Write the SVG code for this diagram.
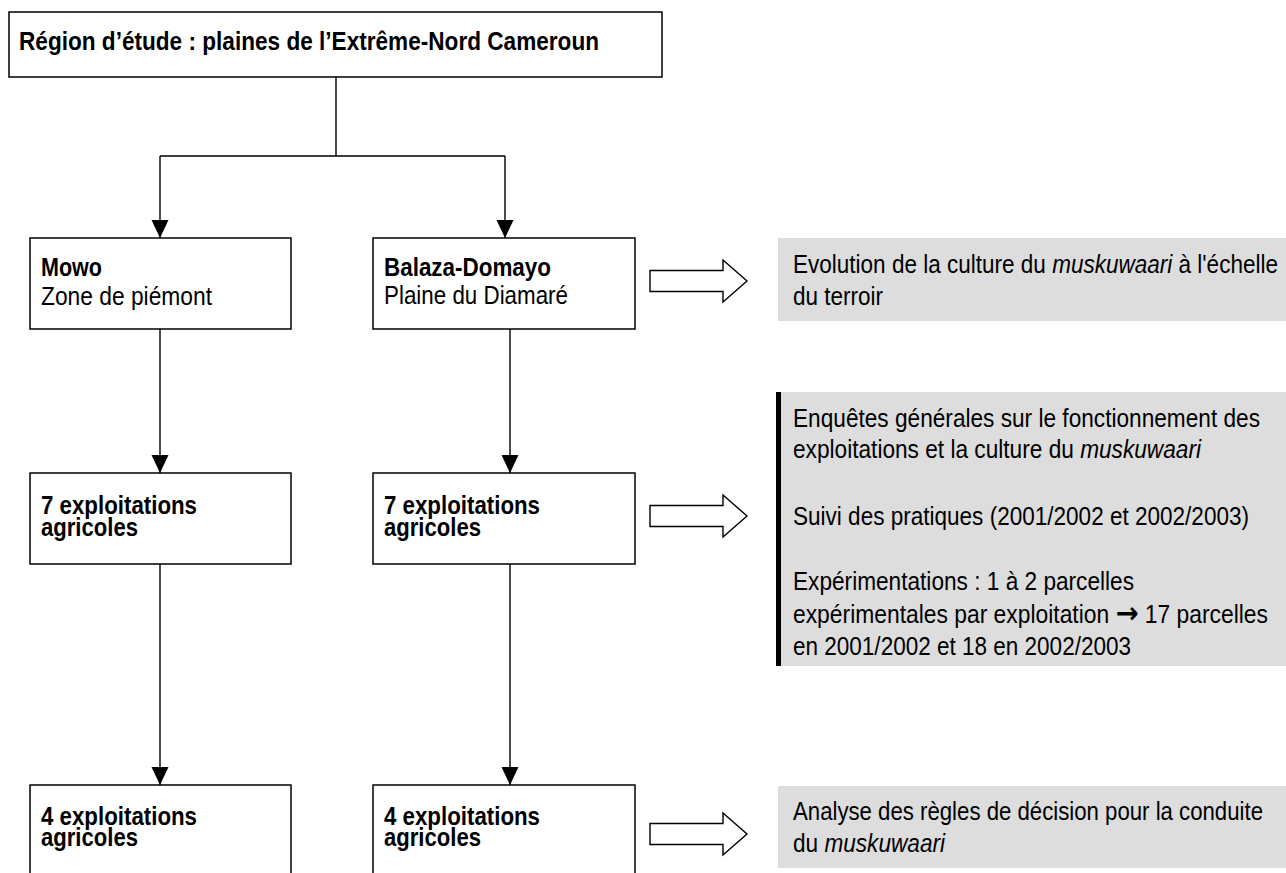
<svg xmlns="http://www.w3.org/2000/svg" width="1286" height="873" viewBox="0 0 1286 873">
<style>
  .box { fill: #ffffff; stroke: #000000; stroke-width: 1.5; }
  .note { fill: #dddddd; stroke: none; }
  .t { font-family: "Liberation Sans", Arial, sans-serif; font-size: 25px; fill: #000000; }
  .b { font-weight: bold; }
  .i { font-style: italic; }
  .sym { font-family: "DejaVu Sans", sans-serif; font-weight: bold; font-size: 30px; }
  .line { fill: none; stroke: #000000; stroke-width: 1.4; }
  .hollow { fill: #ffffff; stroke: #000000; stroke-width: 1.4; stroke-linejoin: miter; }
</style>
<defs>
  <marker id="ah" markerUnits="userSpaceOnUse" markerWidth="18" markerHeight="19" refX="18" refY="8.5" orient="auto">
    <path d="M0,0 L18,8.5 L0,17 Z" fill="#000000"/>
  </marker>
</defs>
<rect x="0" y="0" width="1286" height="873" fill="#ffffff"/>

<g id="connectors">
  <path class="line" d="M336,77 V156 M160,156 H505"/>
  <path class="line" d="M160,156 V238" marker-end="url(#ah)"/>
  <path class="line" d="M505,156 V238" marker-end="url(#ah)"/>
  <path class="line" d="M160,329 V473" marker-end="url(#ah)"/>
  <path class="line" d="M510,329 V473" marker-end="url(#ah)"/>
  <path class="line" d="M160,564 V785" marker-end="url(#ah)"/>
  <path class="line" d="M510,564 V785" marker-end="url(#ah)"/>
  <path class="hollow" d="M650,270.5 H723 V260 L747,281 L723,302 V291.5 H650 Z"/>
  <path class="hollow" d="M650,505.5 H723 V495 L747,516 L723,537 V526.5 H650 Z"/>
  <path class="hollow" d="M650,823.5 H723 V813 L747,834 L723,855 V844.5 H650 Z"/>
</g>

<g id="region">
  <rect class="box" x="9" y="12" width="653" height="65"/>
  <text class="t b" x="19" y="50" textLength="580" lengthAdjust="spacingAndGlyphs">Région d’étude : plaines de l’Extrême-Nord Cameroun</text>
</g>

<g id="mowo">
  <rect class="box" x="30" y="238" width="261" height="91"/>
  <text class="t b" x="41" y="276" textLength="61" lengthAdjust="spacingAndGlyphs">Mowo</text>
  <text class="t" x="41" y="305" textLength="171" lengthAdjust="spacingAndGlyphs">Zone de piémont</text>
</g>

<g id="balaza">
  <rect class="box" x="373" y="238" width="262" height="91"/>
  <text class="t b" x="384" y="276" textLength="167" lengthAdjust="spacingAndGlyphs">Balaza-Domayo</text>
  <text class="t" x="384" y="304" textLength="184" lengthAdjust="spacingAndGlyphs">Plaine du Diamaré</text>
</g>

<g id="mowo-7">
  <rect class="box" x="30" y="473" width="261" height="91"/>
  <text class="t b" x="41" y="514" textLength="156" lengthAdjust="spacingAndGlyphs">7 exploitations</text>
  <text class="t b" x="41" y="536" textLength="97" lengthAdjust="spacingAndGlyphs">agricoles</text>
</g>

<g id="balaza-7">
  <rect class="box" x="373" y="473" width="262" height="91"/>
  <text class="t b" x="384" y="514" textLength="156" lengthAdjust="spacingAndGlyphs">7 exploitations</text>
  <text class="t b" x="384" y="536" textLength="97" lengthAdjust="spacingAndGlyphs">agricoles</text>
</g>

<g id="mowo-4">
  <rect class="box" x="30" y="785" width="261" height="100"/>
  <text class="t b" x="41" y="825" textLength="156" lengthAdjust="spacingAndGlyphs">4 exploitations</text>
  <text class="t b" x="41" y="846" textLength="97" lengthAdjust="spacingAndGlyphs">agricoles</text>
</g>

<g id="balaza-4">
  <rect class="box" x="373" y="785" width="262" height="100"/>
  <text class="t b" x="384" y="825" textLength="156" lengthAdjust="spacingAndGlyphs">4 exploitations</text>
  <text class="t b" x="384" y="846" textLength="97" lengthAdjust="spacingAndGlyphs">agricoles</text>
</g>

<g id="note-terroir">
  <rect class="note" x="778" y="238" width="508" height="83"/>
  <text class="t" x="793" y="273" textLength="485" lengthAdjust="spacingAndGlyphs">Evolution de la culture du <tspan class="i">muskuwaari</tspan> à l'échelle</text>
  <text class="t" x="793" y="305" textLength="90" lengthAdjust="spacingAndGlyphs">du terroir</text>
</g>

<g id="note-enquetes">
  <rect class="note" x="778" y="392" width="508" height="274"/>
  <rect x="776" y="392" width="5" height="274" fill="#000000"/>
  <text class="t" x="793" y="427" textLength="467" lengthAdjust="spacingAndGlyphs">Enquêtes générales sur le fonctionnement des</text>
  <text class="t" x="793" y="458" textLength="408" lengthAdjust="spacingAndGlyphs">exploitations et la culture du <tspan class="i">muskuwaari</tspan></text>
  <text class="t" x="793" y="525" textLength="456" lengthAdjust="spacingAndGlyphs">Suivi des pratiques (2001/2002 et 2002/2003)</text>
  <text class="t" x="793" y="590" textLength="341" lengthAdjust="spacingAndGlyphs">Expérimentations : 1 à 2 parcelles</text>
  <text class="t" x="793" y="623" textLength="475" lengthAdjust="spacingAndGlyphs">expérimentales par exploitation <tspan class="sym">→</tspan> 17 parcelles</text>
  <text class="t" x="793" y="655" textLength="338" lengthAdjust="spacingAndGlyphs">en 2001/2002 et 18 en 2002/2003</text>
</g>

<g id="note-regles">
  <rect class="note" x="778" y="786" width="508" height="82"/>
  <text class="t" x="793" y="820" textLength="470" lengthAdjust="spacingAndGlyphs">Analyse des règles de décision pour la conduite</text>
  <text class="t" x="793" y="852" textLength="152" lengthAdjust="spacingAndGlyphs">du <tspan class="i">muskuwaari</tspan></text>
</g>
</svg>
